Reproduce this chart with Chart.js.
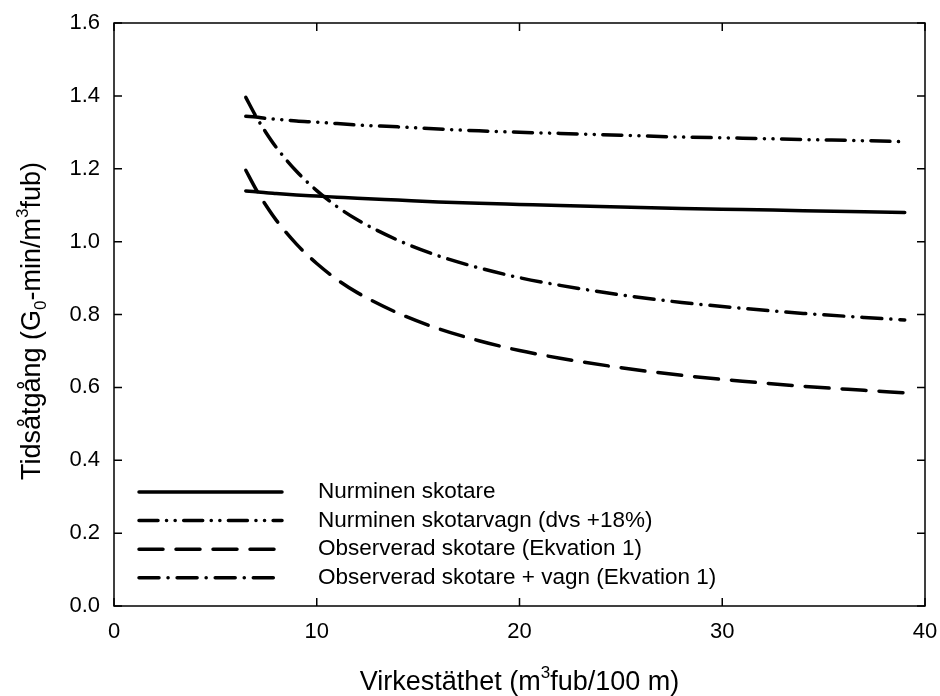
<!DOCTYPE html>
<html>
<head>
<meta charset="utf-8">
<script src="https://cdn.jsdelivr.net/npm/chart.js@4.4.1/dist/chart.umd.min.js"></script>
<style>
  html, body { margin: 0; padding: 0; background: #fff; }
  #wrap { width: 940px; height: 696px; }
</style>
</head>
<body>
<div id="wrap"><canvas id="canvas"></canvas></div>
<script>
// virkestäthet, m3fub/100 m
var xValues = [6.5, 7, 7.5, 8, 9, 10, 11, 12, 14, 16, 18, 20, 22, 25, 28, 31, 34, 37, 39];

// tidsåtgång, G0-min/m3fub
var nurminenSkotare   = [1.139, 1.137, 1.134, 1.132, 1.128, 1.125, 1.122, 1.119, 1.114, 1.109, 1.105, 1.102, 1.099, 1.095, 1.091, 1.088, 1.085, 1.082, 1.080];
var nurminenVagn      = [1.344, 1.342, 1.338, 1.336, 1.331, 1.328, 1.324, 1.320, 1.315, 1.309, 1.304, 1.300, 1.297, 1.292, 1.287, 1.284, 1.280, 1.277, 1.274];
var observeradSkotare = [1.196, 1.144, 1.099, 1.059, 0.993, 0.940, 0.896, 0.860, 0.804, 0.761, 0.728, 0.701, 0.680, 0.654, 0.633, 0.617, 0.603, 0.592, 0.585];
var observeradVagn    = [1.396, 1.344, 1.299, 1.259, 1.193, 1.140, 1.096, 1.060, 1.004, 0.961, 0.928, 0.901, 0.880, 0.854, 0.833, 0.817, 0.803, 0.792, 0.785];

var seriesLabels = [
  'Nurminen skotare',
  'Nurminen skotarvagn (dvs +18%)',
  'Observerad skotare (Ekvation 1)',
  'Observerad skotare + vagn (Ekvation 1)'
];

var xTicks = [0, 10, 20, 30, 40];
var yTicks = [0, 0.2, 0.4, 0.6, 0.8, 1.0, 1.2, 1.4, 1.6];

var FONT = '"Liberation Sans", Arial, Helvetica, sans-serif';

function points(ys) {
  return xValues.map(function (x, i) { return { x: x, y: ys[i] }; });
}

function series(label, ys, dash) {
  return {
    label: label,
    data: points(ys),
    borderColor: '#000',
    borderWidth: 3.5,
    borderDash: dash,
    borderCapStyle: 'round',
    borderJoinStyle: 'round',
    pointRadius: 0,
    fill: false,
    cubicInterpolationMode: 'monotone'
  };
}

// text with sub/superscript pieces, drawn centred at (cx, cy)
function drawRich(ctx, parts, cx, cy, size) {
  var small = Math.round(size * 0.62);
  var widths = parts.map(function (p) {
    ctx.font = ((p.sub || p.sup) ? small : size) + 'px ' + FONT;
    return ctx.measureText(p.t).width;
  });
  var total = widths.reduce(function (a, b) { return a + b; }, 0);
  var x = cx - total / 2;
  ctx.textBaseline = 'alphabetic';
  ctx.textAlign = 'left';
  parts.forEach(function (p, i) {
    var y = cy + size * 0.36;
    if (p.sub) y += size * 0.22;
    if (p.sup) y -= size * 0.42;
    ctx.font = ((p.sub || p.sup) ? small : size) + 'px ' + FONT;
    ctx.fillText(p.t, x, y);
    x += widths[i];
  });
}

var framePlugin = {
  id: 'frame',
  afterDatasetsDraw: function (chart) {
    var ctx = chart.ctx, a = chart.chartArea;
    var xs = chart.scales.x, ys = chart.scales.y;
    var tick = 8;
    ctx.save();
    ctx.strokeStyle = '#000';
    ctx.lineWidth = 1.5;
    ctx.strokeRect(a.left, a.top, a.right - a.left, a.bottom - a.top);
    ctx.beginPath();
    xTicks.forEach(function (v) {
      var px = xs.getPixelForValue(v);
      ctx.moveTo(px, a.bottom); ctx.lineTo(px, a.bottom - tick);
      ctx.moveTo(px, a.top); ctx.lineTo(px, a.top + tick);
    });
    yTicks.forEach(function (v) {
      var py = ys.getPixelForValue(v);
      ctx.moveTo(a.left, py); ctx.lineTo(a.left + tick, py);
      ctx.moveTo(a.right, py); ctx.lineTo(a.right - tick, py);
    });
    ctx.stroke();

    // legend in lower left of the plot
    var rowY = 492, rowGap = 28.6;
    chart.data.datasets.forEach(function (ds, i) {
      var y = rowY + i * rowGap;
      ctx.beginPath();
      ctx.lineWidth = ds.borderWidth;
      ctx.lineCap = ds.borderCapStyle;
      ctx.setLineDash(ds.borderDash || []);
      ctx.moveTo(139, y);
      ctx.lineTo(282, y);
      ctx.stroke();
      ctx.setLineDash([]);
      ctx.fillStyle = '#000';
      ctx.font = '22.5px ' + FONT;
      ctx.textAlign = 'left';
      ctx.textBaseline = 'middle';
      ctx.fillText(ds.label, 318, y);
    });

    // axis titles
    ctx.fillStyle = '#000';
    drawRich(ctx, [
      { t: 'Virkestäthet (m' }, { t: '3', sup: true }, { t: 'fub/100 m)' }
    ], (a.left + a.right) / 2, 680, 27);
    ctx.translate(30, 321);
    ctx.rotate(-Math.PI / 2);
    drawRich(ctx, [
      { t: 'Tidsåtgång (G' }, { t: '0', sub: true }, { t: '-min/m' },
      { t: '3', sup: true }, { t: 'fub)' }
    ], 0, 0, 27);
    ctx.restore();
  }
};

var ctx = document.getElementById('canvas');

var chart = new Chart(ctx, {
  type: 'line',
  data: {
    datasets: [
      series(seriesLabels[0], nurminenSkotare, []),
      series(seriesLabels[1], nurminenVagn, [19, 8.5, 0.1, 8.5, 0.1, 8.5]),
      series(seriesLabels[2], observeradSkotare, [24, 13]),
      series(seriesLabels[3], observeradVagn, [20, 9, 0.1, 9])
    ]
  },
  options: {
    responsive: true,
    maintainAspectRatio: false,
    animation: false,
    layout: { padding: { top: 23, right: 15, left: 0, bottom: 0 } },
    plugins: {
      legend: { display: false },
      tooltip: { enabled: false }
    },
    scales: {
      x: {
        type: 'linear',
        min: 0,
        max: 40,
        afterFit: function (s) {
          s.height = 90;
          s.paddingLeft = 0;
          s.paddingRight = 0;
        },
        afterBuildTicks: function (s) { s.ticks = xTicks.map(function (v) { return { value: v }; }); },
        grid: { display: false, drawTicks: false },
        border: { display: false },
        ticks: {
          color: '#000',
          padding: 13,
          maxRotation: 0,
          font: { family: FONT, size: 22 }
        }
      },
      y: {
        min: 0,
        max: 1.6,
        afterFit: function (s) {
          s.width = 114;
          s.paddingTop = 0;
          s.paddingBottom = 0;
        },
        afterBuildTicks: function (s) { s.ticks = yTicks.map(function (v) { return { value: v }; }); },
        grid: { display: false, drawTicks: false },
        border: { display: false },
        ticks: {
          color: '#000',
          padding: 14,
          font: { family: FONT, size: 22 },
          callback: function (v) { return Number(v).toFixed(1); }
        }
      }
    }
  },
  plugins: [framePlugin]
});
</script>
</body>
</html>
